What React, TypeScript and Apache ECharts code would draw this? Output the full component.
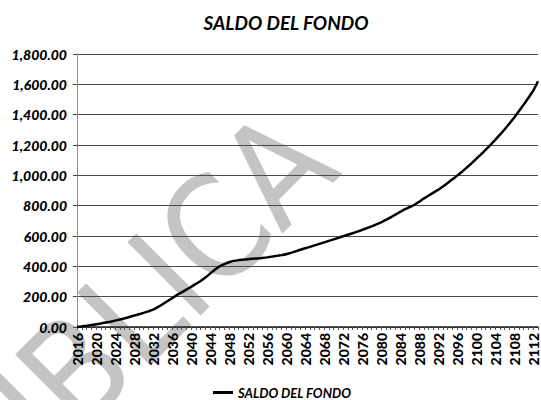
import React, { useEffect, useRef } from "react";
import * as echarts from "echarts";

const titleText = "SALDO DEL FONDO";
const seriesName = "SALDO DEL FONDO";
const watermark = "PUBLICA";

const startYear = 2016;
const years: string[] = [];
// fund balance per year, 2016 .. 2113
const saldo: number[] = [
  0, 4, 8, 13, 18, 23, 29, 35, 42, 49,
  57, 66, 75, 84, 93, 103, 114, 131, 150, 170,
  190, 210, 228, 246, 265, 284, 303, 326, 352, 378,
  400, 415, 427, 436, 441, 444, 447, 450, 452, 455,
  459, 464, 469, 474, 480, 489, 499, 509, 519, 528,
  538, 548, 558, 568, 578, 588, 598, 608, 618, 629,
  640, 652, 664, 677, 690, 706, 723, 741, 759, 777,
  790, 806, 826, 848, 867, 886, 905, 927, 950, 974,
  998, 1024, 1051, 1079, 1108, 1138, 1169, 1201, 1234, 1268,
  1304, 1342, 1382, 1424, 1467, 1511, 1558, 1620,
];
for (let i = 0; i < saldo.length; i++) years.push(String(startYear + i));

const yMin = 0;
const yMax = 1800;
const yStep = 200;

const labelFont = "Lato, 'Open Sans', sans-serif";

export default function App() {
  const ref = useRef<HTMLDivElement>(null);
  useEffect(() => {
    if (!ref.current) return;
    const chart = echarts.init(ref.current, undefined, { renderer: "svg" });
    chart.setOption({
      animation: false,
      backgroundColor: "#ffffff",
      title: {
        text: titleText,
        left: 281,
        top: 8,
        textAlign: "center",
        textStyle: {
          fontFamily: labelFont,
          fontStyle: "italic",
          fontWeight: "bold",
          fontSize: 19,
          color: "#000",
        },
      },
      graphic: [
        {
          type: "text",
          x: 116,
          y: 330,
          rotation: (45 * Math.PI) / 180,
          silent: true,
          z: 0,
          style: {
            text: watermark,
            fill: "#c4c4c4",
            fontFamily: "'Liberation Sans Narrow', 'DejaVu Sans Condensed', sans-serif",
            fontSize: 142,
            fontWeight: "normal",
            align: "center",
            verticalAlign: "middle",
          },
        },
      ],
      legend: {
        top: 381,
        left: 208,
        textStyle: {
          fontFamily: labelFont,
          fontStyle: "italic",
          fontWeight: "bold",
          fontSize: 13,
          color: "#000",
        },
        itemWidth: 20,
        itemHeight: 3,
        itemGap: 4,
        icon: "rect",
        data: [seriesName],
      },
      grid: { left: 77, right: 3, top: 54, bottom: 73, containLabel: false },
      xAxis: {
        type: "category",
        data: years,
        boundaryGap: false,
        axisLine: { show: true, lineStyle: { color: "#222", width: 1.5 } },
        axisTick: {
          show: true,
          interval: 0,
          length: 3,
          lineStyle: { color: "#555", width: 1 },
        },
        axisLabel: {
          interval: 3,
          rotate: 90,
          margin: 6,
          fontFamily: labelFont,
          fontWeight: "900",
          fontSize: 14,
          color: "#000",
        },
        splitLine: { show: false },
      },
      yAxis: {
        type: "value",
        min: yMin,
        max: yMax,
        interval: yStep,
        axisLine: { show: true, lineStyle: { color: "#777", type: "dotted", width: 1 } },
        axisTick: { show: true, length: 4, lineStyle: { color: "#444" } },
        axisLabel: {
          margin: 10,
          fontFamily: labelFont,
          fontStyle: "italic",
          fontWeight: "900",
          fontSize: 14,
          color: "#000",
          formatter: (v: number) =>
            v.toLocaleString("en-US", { minimumFractionDigits: 2, maximumFractionDigits: 2 }),
        },
        splitLine: { show: true, lineStyle: { color: "#4a4a4a", width: 1 } },
      },
      series: [
        {
          name: seriesName,
          type: "line",
          data: saldo,
          showSymbol: false,
          smooth: 0.2,
          z: 5,
          lineStyle: { color: "#000", width: 2.5 },
          itemStyle: { color: "#000" },
        },
      ],
    });
    return () => chart.dispose();
  }, []);
  return (
    <div
      ref={ref}
      style={{ position: "fixed", left: 0, top: 0, width: 541, height: 400 }}
    />
  );
}
